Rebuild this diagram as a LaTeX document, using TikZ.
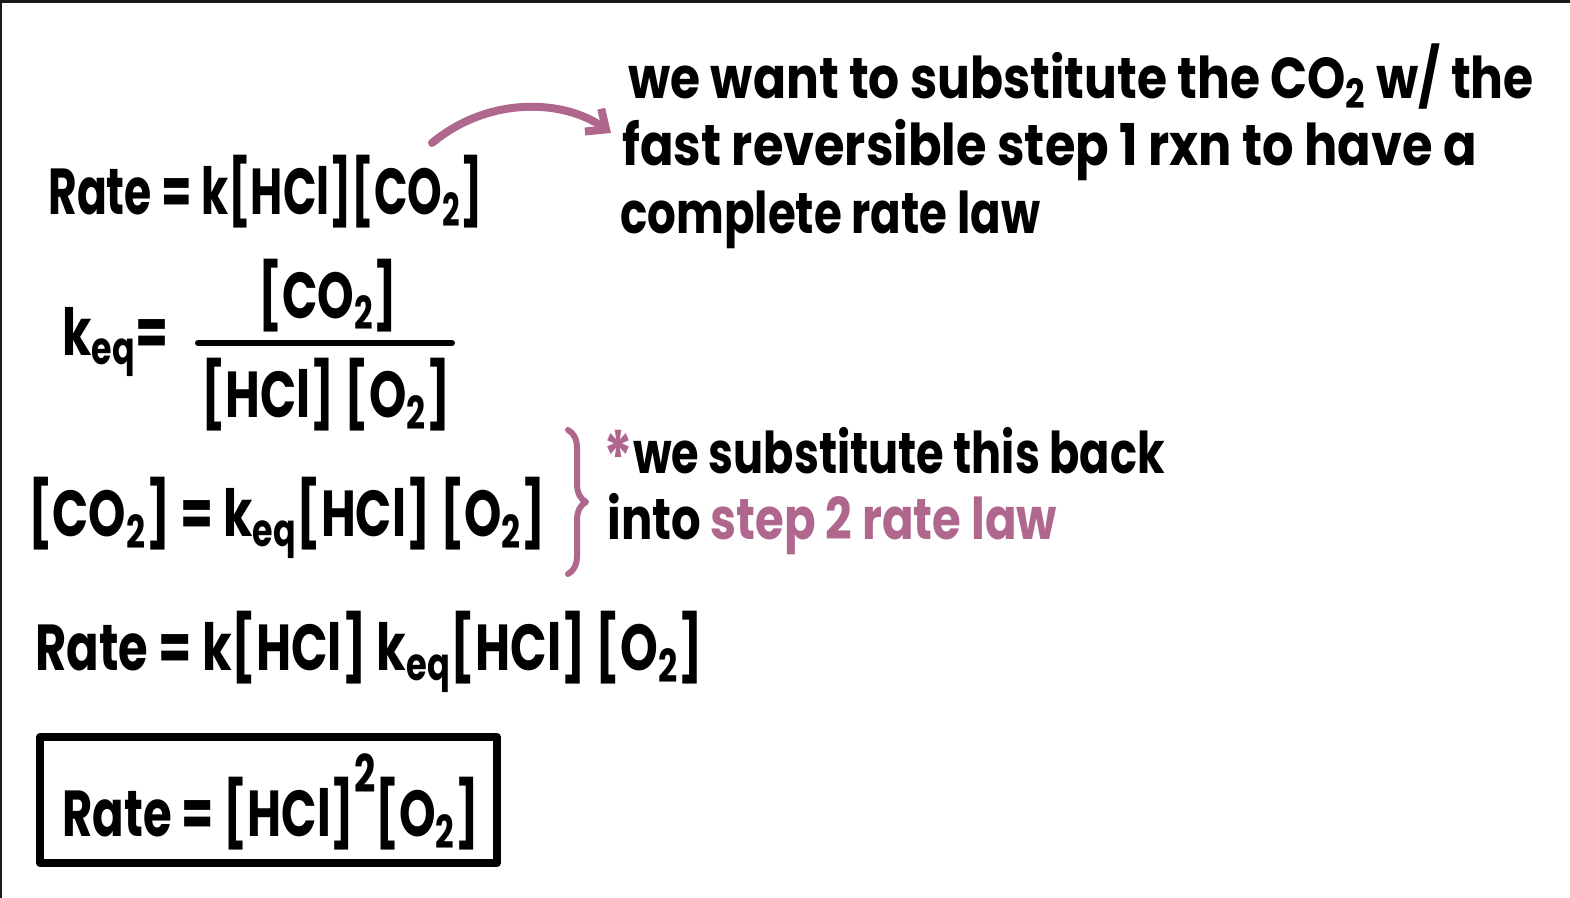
\documentclass[tikz,border=0pt]{standalone}
\usepackage{fontspec}
\setmainfont{Poppins}
\usetikzlibrary{arrows.meta,decorations.pathreplacing}
\definecolor{pinkink}{HTML}{B0678E}
\definecolor{frameink}{HTML}{1A1A1A}
\newcommand{\sub}[1]{\textsubscript{#1}}
\newcommand{\hand}[2][1]{\scalebox{#1}[1.3]{#2}}
\newcommand{\scrawl}[2][1]{\scalebox{#1}[1.2]{#2}}
\begin{document}
\begin{tikzpicture}[x=0.5pt,y=-0.5pt,
	eqn/.style={anchor=west,inner sep=0pt,font=\fontsize{25}{30}\selectfont\bfseries},
	note/.style={anchor=base west,inner sep=0pt,text height=22pt,text depth=7pt,font=\fontsize{24}{28}\selectfont\bfseries},
	ink/.style={line width=4pt,line cap=round,line join=round}]
	% page and frame edges
	\fill[white] (0,0) rectangle (1570,898);
	\fill[frameink] (0,0) rectangle (1570,3);
	\fill[frameink] (0,0) rectangle (2,898);
	\useasboundingbox (0,0) rectangle (1570,898);
	% first rate law
	\node[eqn] (rate1) at (48,192) {\hand[0.88]{Rate = k[HCl][CO\sub{2}]}};
	% equilibrium constant
	\node[eqn] (keq) at (62,342) {\hand[0.95]{k\sub{eq}=}};
	\node[eqn,anchor=south] (num) at (328,332) {\hand[0.93]{[CO\sub{2}]}};
	\node[eqn,anchor=north] (den) at (326,358) {\hand[0.95]{[HCl] [O\sub{2}]}};
	\draw[ink,line width=3pt] (198,343)coordinate(bl)--(452,343)coordinate(br);
	% solved for CO2
	\node[eqn] (co2) at (28,518) {\hand[0.95]{[CO\sub{2}] = k\sub{eq}[HCl] [O\sub{2}]}};
	\draw[pinkink,ink,line width=3pt,decorate,decoration={brace,amplitude=9pt}] (568,430)coordinate(bt)--(568,574)coordinate(bb);
	\node[note] (back) at (603,474) {\scrawl[0.93]{\textcolor{pinkink}{\raisebox{-0.3ex}[0pt][0pt]{\fontsize{30}{30}\selectfont *}}we substitute this back}};
	\node[note] (into) at (607,540) {\scrawl[0.97]{into \textcolor{pinkink}{step 2 rate law}}};
	% combined rate law
	\node[eqn] (rate2) at (35,652) {\hand[0.96]{Rate = k[HCl] k\sub{eq}[HCl] [O\sub{2}]}};
	% final answer
	\node[eqn] (rate3) at (62,802) {\hand[0.93]{Rate = [HCl]\raisebox{1.2ex}{\fontsize{20}{20}\selectfont 2}[O\sub{2}]}};
	\draw[ink] (40,737) rectangle (497,863);
	% note at top right
	\node[note] (want) at (628,99) {\scrawl[1.015]{we want to substitute the CO\sub{2} w/ the}};
	\node[note] (fast) at (622,166) {\scrawl[1.03]{fast reversible step 1 rxn to have a}};
	\node[note] (compl) at (620,234) {\scrawl[0.94]{complete rate law}};
	\coordinate (tail) at (432,143);
	\coordinate (head) at (611,133);
	\draw[pinkink,ink,-{Straight Barb[length=8pt,width=14pt,line width=4pt]}] (tail) .. controls (490,95) and (565,100) .. (head);
\end{tikzpicture}
\end{document}
